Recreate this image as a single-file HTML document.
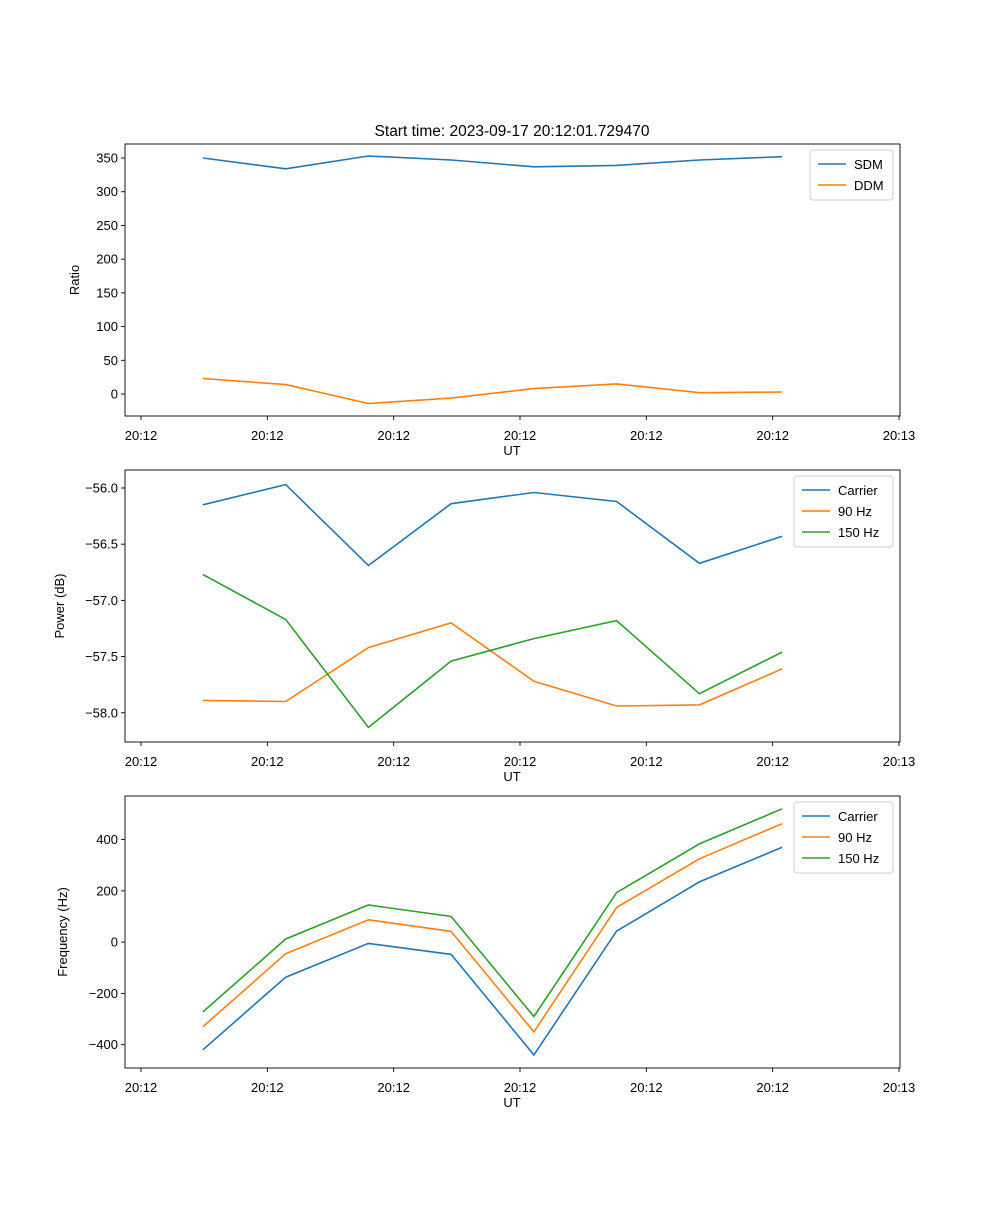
<!DOCTYPE html>
<html><head><meta charset="utf-8">
<style>
body{margin:0;background:#fff;}
svg text{font-family:"Liberation Sans","DejaVu Sans",sans-serif;font-size:13px;fill:#000;}
</style></head>
<body>
<svg id="fig" width="1000" height="1200" xmlns="http://www.w3.org/2000/svg">
<rect width="1000" height="1200" fill="#fff"/>
<text x="512" y="136" text-anchor="middle" style="font-size:15.5px">Start time: 2023-09-17 20:12:01.729470</text>
</svg>
<script>
// seconds after 20:12:00
const times = [4.9, 11.45, 18.0, 24.55, 31.1, 37.65, 44.2, 50.75];
const xTickValues = [0, 10, 20, 30, 40, 50, 60];
const xTickLabels = ["20:12","20:12","20:12","20:12","20:12","20:12","20:13"];

const sdm = [350, 334, 353, 347, 337, 339, 347, 352];
const ddm = [23, 14, -14, -6, 8, 15, 2, 3];
const ratioTicks = [0, 50, 100, 150, 200, 250, 300, 350];

const powCarrier = [-56.15, -55.97, -56.69, -56.14, -56.04, -56.12, -56.67, -56.43];
const pow90 = [-57.89, -57.90, -57.42, -57.20, -57.72, -57.94, -57.93, -57.61];
const pow150 = [-56.77, -57.17, -58.13, -57.54, -57.34, -57.18, -57.83, -57.46];
const powTicks = [-58.0, -57.5, -57.0, -56.5, -56.0];

const freqCarrier = [-420, -137, -5, -48, -440, 43, 235, 370];
const freq90 = [-330, -45, 87, 42, -350, 135, 325, 462];
const freq150 = [-272, 12, 145, 100, -290, 193, 383, 520];
const freqTicks = [-400, -200, 0, 200, 400];

const NS = "http://www.w3.org/2000/svg";
const svg = document.getElementById('fig');
const L = 125, R = 900;
function mk(tag, attrs, parent){const e=document.createElementNS(NS,tag);for(const k in attrs)e.setAttribute(k,attrs[k]);(parent||svg).appendChild(e);return e;}
const xScale = t => 141 + t * (899 - 141) / 60;

function panel(opts){
  const g = mk('g', {});
  
  
  const {top, bottom, ymin, ymax} = opts;
  const yScale = v => bottom - (v - ymin) / (ymax - ymin) * (bottom - top);
  opts.series.forEach(s => {
    const d = times.map((t,i)=>(i?'L':'M')+xScale(t).toFixed(1)+','+yScale(s.values[i]).toFixed(1)).join(' ');
    const p = mk('path', {d, fill:'none', stroke:s.color, 'stroke-width':1.6}, g);
    
    
  });
  const fr = mk('rect', {x:L, y:top, width:R-L, height:bottom-top, fill:'none', stroke:'#000', 'stroke-width':0.9}, g);
  
  
  xTickValues.forEach((v,i)=>{
    const x = xScale(v);
    mk('line',{x1:x,x2:x,y1:bottom,y2:bottom+4,stroke:'#000','stroke-width':0.9},g);
    const t = mk('text',{x:x,y:bottom+24,'text-anchor':'middle'},g);
    t.textContent = xTickLabels[i];
    
    
  });
  const xl = mk('text',{x:512,y:bottom+39,'text-anchor':'middle'},g);
  xl.textContent = 'UT';
  
  
  opts.ticks.forEach(v=>{
    const y = yScale(v);
    mk('line',{x1:L-4,x2:L,y1:y,y2:y,stroke:'#000','stroke-width':0.9},g);
    const t = mk('text',{x:L-7,y:y+4.5,'text-anchor':'end'},g);
    t.textContent = opts.fmt(v);
    
    
  });
  const yl = mk('text',{x:0,y:0,'text-anchor':'middle',transform:`translate(${opts.ylabelX},${(top+bottom)/2}) rotate(-90)`},g);
  yl.textContent = opts.ylabel;
  
  
  const lg = mk('g',{},g);
  
  
  const lw = opts.legendW, lx = R - 7 - lw, ly = top + 6;
  mk('rect',{x:lx,y:ly,width:lw,height:8+opts.series.length*21,rx:3,fill:'#fff','fill-opacity':0.8,stroke:'#ccc'},lg);
  opts.series.forEach((s,i)=>{
    const yy = ly + 14 + i*21;
    mk('line',{x1:lx+8,x2:lx+36,y1:yy,y2:yy,stroke:s.color,'stroke-width':1.6},lg);
    const t = mk('text',{x:lx+44,y:yy+5},lg);
    t.textContent = s.label;
    
    
  });
}

panel({name:'ratio-panel', top:144, bottom:416, ymin:-32.6, ymax:370.8, ticks:ratioTicks, fmt:v=>String(v),
  ylabel:'Ratio', ylabelX:79, legendW:83,
  series:[{key:'sdm',label:'SDM',color:'#1f77b4',values:sdm},{key:'ddm',label:'DDM',color:'#ff7f0e',values:ddm}]});
panel({name:'power-panel', top:470, bottom:742, ymin:-58.26, ymax:-55.84, ticks:powTicks, fmt:v=>'\u2212'+Math.abs(v).toFixed(1),
  ylabel:'Power (dB)', ylabelX:64, legendW:99,
  series:[{key:'power-carrier',label:'Carrier',color:'#1f77b4',values:powCarrier},
          {key:'power-90hz',label:'90 Hz',color:'#ff7f0e',values:pow90},
          {key:'power-150hz',label:'150 Hz',color:'#2ca02c',values:pow150}]});
panel({name:'frequency-panel', top:796, bottom:1068, ymin:-491, ymax:570, ticks:freqTicks, fmt:v=>v<0?'\u2212'+Math.abs(v):String(v),
  ylabel:'Frequency (Hz)', ylabelX:67, legendW:99,
  series:[{key:'freq-carrier',label:'Carrier',color:'#1f77b4',values:freqCarrier},
          {key:'freq-90hz',label:'90 Hz',color:'#ff7f0e',values:freq90},
          {key:'freq-150hz',label:'150 Hz',color:'#2ca02c',values:freq150}]});
</script>
</body></html>
